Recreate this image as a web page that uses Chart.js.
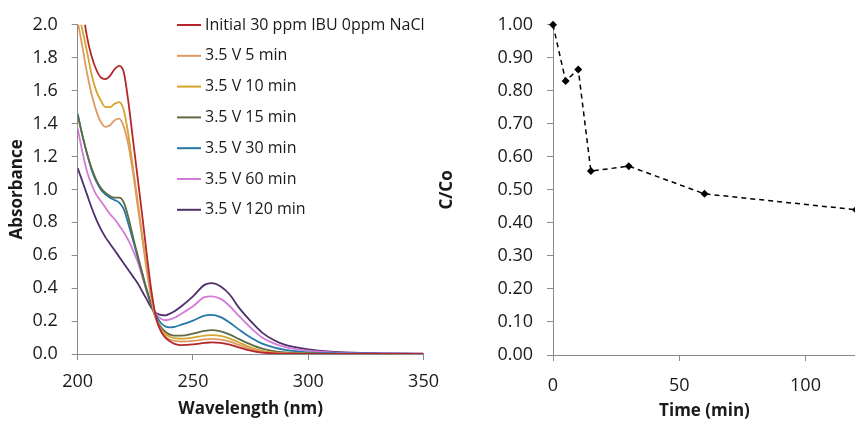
<!DOCTYPE html>
<html><head><meta charset="utf-8">
<script src="https://cdn.jsdelivr.net/npm/chart.js@4.4.0/dist/chart.umd.min.js"></script>
<style>
html,body{margin:0;padding:0;background:#fff;overflow:hidden;width:855px;height:426px;}
#w1{position:absolute;left:0;top:0;width:450px;height:426px;}
#w2{position:absolute;left:430px;top:0;width:430px;height:426px;}
canvas{display:block;}
</style></head><body>
<div id="w1"><canvas id="c1" width="450" height="426"></canvas></div>
<div id="w2"><canvas id="c2" width="430" height="426"></canvas></div>
<script>
// ---- Left chart data: UV-Vis spectra ----
const wavelengths = [200,202,204,206,208,210,212,214,216,218,220,222,224,226,228,230,232,234,236,238,240,242,245,250,255,258,262,266,270,275,280,285,290,300,310,320,335,350];
const seriesNames = ["Initial 30 ppm IBU 0ppm NaCl","3.5 V 5 min","3.5 V 10 min","3.5 V 15 min","3.5 V 30 min","3.5 V 60 min","3.5 V 120 min"];
const absInitial = [2.45,2.12,1.93,1.81,1.73,1.68,1.67,1.69,1.73,1.75,1.71,1.53,1.30,1.07,0.84,0.60,0.38,0.22,0.14,0.10,0.077,0.062,0.054,0.058,0.067,0.071,0.068,0.057,0.04,0.02,0.008,0.004,0.002,0.001,0.001,0,0,0];
const abs5min = [2.02,1.87,1.71,1.58,1.48,1.41,1.38,1.39,1.42,1.43,1.38,1.27,1.10,0.90,0.70,0.50,0.33,0.21,0.145,0.105,0.088,0.08,0.076,0.08,0.089,0.092,0.088,0.075,0.055,0.03,0.014,0.006,0.003,0.001,0.001,0,0,0];
const abs10min = [2.10,1.97,1.84,1.70,1.60,1.54,1.50,1.50,1.52,1.53,1.48,1.33,1.13,0.93,0.72,0.52,0.34,0.215,0.15,0.12,0.105,0.097,0.094,0.10,0.112,0.115,0.11,0.094,0.07,0.04,0.019,0.009,0.004,0.002,0.001,0,0,0];
const abs15min = [1.45,1.33,1.22,1.13,1.06,1.01,0.98,0.96,0.95,0.95,0.92,0.83,0.71,0.60,0.49,0.38,0.29,0.215,0.165,0.135,0.118,0.112,0.112,0.124,0.14,0.145,0.138,0.118,0.09,0.058,0.032,0.017,0.009,0.003,0.001,0.001,0,0];
const abs30min = [1.46,1.33,1.22,1.12,1.05,1.00,0.97,0.95,0.935,0.92,0.88,0.79,0.69,0.59,0.49,0.39,0.30,0.235,0.19,0.168,0.162,0.165,0.178,0.203,0.233,0.238,0.224,0.19,0.148,0.10,0.063,0.04,0.025,0.01,0.005,0.003,0.002,0.001];
const abs60min = [1.37,1.23,1.11,1.03,0.97,0.93,0.89,0.85,0.82,0.78,0.74,0.69,0.63,0.56,0.47,0.38,0.30,0.245,0.215,0.205,0.21,0.22,0.245,0.29,0.345,0.35,0.335,0.29,0.23,0.16,0.10,0.065,0.042,0.02,0.01,0.005,0.003,0.002];
const abs120min = [1.13,1.05,0.97,0.89,0.82,0.76,0.71,0.67,0.63,0.59,0.55,0.51,0.47,0.43,0.38,0.33,0.28,0.25,0.238,0.235,0.245,0.26,0.29,0.35,0.42,0.43,0.41,0.36,0.28,0.20,0.13,0.085,0.055,0.028,0.014,0.008,0.004,0.002];
const wlTicks = [200,250,300,350];
const absTicks = [0,0.2,0.4,0.6,0.8,1.0,1.2,1.4,1.6,1.8,2.0];

// ---- Right chart data: C/Co vs time ----
const times = [0,5,10,15,30,60,120];
const cOverCo = [1.00,0.83,0.865,0.557,0.572,0.488,0.44];
const timeTicks = [0,50,100];
const ratioTicks = [0,0.1,0.2,0.3,0.4,0.5,0.6,0.7,0.8,0.9,1.0];

// ---- styles ----
const seriesColors = ['#B5262C','#DE9A62','#D4A52A','#5E6B45','#2479A6','#D37BD6','#4F2F6C'];
const FONT = "'Open Sans', 'DejaVu Sans', sans-serif";
const TXT = '#1a1a1a';
const AX = '#8a8a8a';

const inlineLegend = {
  id: 'inlineLegend',
  afterDraw(chart, args, o) {
    if (!o || !o.show) return;
    const ctx = chart.ctx;
    ctx.save();
    chart.data.datasets.forEach((ds, i) => {
      const y = o.y0 + i * o.dy;
      ctx.strokeStyle = ds.borderColor; ctx.lineWidth = 2;
      ctx.beginPath(); ctx.moveTo(o.x0, y); ctx.lineTo(o.x0 + o.len, y); ctx.stroke();
      ctx.fillStyle = TXT; ctx.font = o.font; ctx.textBaseline = 'middle'; ctx.textAlign = 'left';
      ctx.fillText(ds.label, o.x0 + o.len + o.gap, y);
    });
    ctx.restore();
  }
};

function keepTicks(list) {
  return function(scale) { scale.ticks = list.map(v => ({value: v})); };
}

const allAbs = [absInitial, abs5min, abs10min, abs15min, abs30min, abs60min, abs120min];

new Chart(document.getElementById('c1'), {
  type: 'line',
  data: {
    datasets: allAbs.map((arr, i) => ({
      label: seriesNames[i],
      data: wavelengths.map((w, k) => ({x: w, y: arr[k]})),
      borderColor: seriesColors[i],
      backgroundColor: seriesColors[i],
      borderWidth: 1.8,
      pointRadius: 0,
      cubicInterpolationMode: 'monotone',
      fill: false
    }))
  },
  options: {
    responsive: false, animation: false,
    layout: {padding: {top: 15.7, right: 23, bottom: 0, left: 0}},
    plugins: {
      legend: {display: false}, tooltip: {enabled: false},
      inlineLegend: {show: true, x0: 177, y0: 25, dy: 30.8, len: 24, gap: 4, font: "16px " + FONT}
    },
    scales: {
      x: {
        type: 'linear', min: 200, max: 350,
        afterBuildTicks: keepTicks(wlTicks),
        afterFit(s) { s.height = 72; },
        grid: {display: true, drawOnChartArea: false, drawTicks: true, tickLength: 6, color: AX},
        border: {display: true, color: AX, width: 1},
        ticks: {font: {family: FONT, size: 18}, color: TXT, padding: 11, maxRotation: 0},
        title: {display: true, text: 'Wavelength (nm)', font: {family: FONT, size: 17, weight: 'bold'}, color: TXT, padding: {top: 0, bottom: 7}}
      },
      y: {
        type: 'linear', min: 0, max: 2,
        afterBuildTicks: keepTicks(absTicks),
        afterFit(s) { s.width = 77.7; },
        grid: {display: true, drawOnChartArea: false, drawTicks: true, tickLength: 6, color: AX},
        border: {display: true, color: AX, width: 1},
        ticks: {font: {family: FONT, size: 18}, color: TXT, padding: 14, callback: v => Number(v).toFixed(1)},
        title: {display: true, text: 'Absorbance', font: {family: FONT, size: 17, weight: 'bold'}, color: TXT, padding: {top: 7, bottom: 0}}
      }
    }
  },
  plugins: [inlineLegend]
});

new Chart(document.getElementById('c2'), {
  type: 'line',
  data: {
    datasets: [{
      label: 'C/Co',
      data: times.map((t, k) => ({x: t, y: cOverCo[k]})),
      borderColor: '#000',
      backgroundColor: '#000',
      borderWidth: 1.5,
      borderDash: [5, 4],
      pointStyle: 'rectRot',
      pointRadius: 4,
      pointBackgroundColor: '#000',
      pointBorderColor: '#000',
      pointBorderWidth: 0,
      tension: 0,
      clip: false
    }]
  },
  options: {
    responsive: false, animation: false,
    layout: {padding: {top: 14, right: 0, bottom: 0, left: 0}},
    plugins: {legend: {display: false}, tooltip: {enabled: false}},
    scales: {
      x: {
        type: 'linear', min: 0, max: 120,
        afterBuildTicks: keepTicks(timeTicks),
        afterFit(s) { s.height = 71; },
        grid: {display: true, drawOnChartArea: false, drawTicks: true, tickLength: 6, color: AX},
        border: {display: true, color: AX, width: 1},
        ticks: {font: {family: FONT, size: 18}, color: TXT, padding: 14, maxRotation: 0},
        title: {display: true, text: 'Time (min)', font: {family: FONT, size: 17, weight: 'bold'}, color: TXT, padding: {top: 0, bottom: 5}}
      },
      y: {
        type: 'linear', min: 0, max: 1,
        afterBuildTicks: keepTicks(ratioTicks),
        afterFit(s) { s.width = 123; },
        grid: {display: true, drawOnChartArea: false, drawTicks: true, tickLength: 6, color: AX},
        border: {display: true, color: AX, width: 1},
        ticks: {font: {family: FONT, size: 18}, color: TXT, padding: 14, callback: v => Number(v).toFixed(2)},
        title: {display: true, text: 'C/Co', font: {family: FONT, size: 17, weight: 'bold'}, color: TXT, padding: {top: 7, bottom: 0}}
      }
    }
  }
});
</script>
</body></html>
